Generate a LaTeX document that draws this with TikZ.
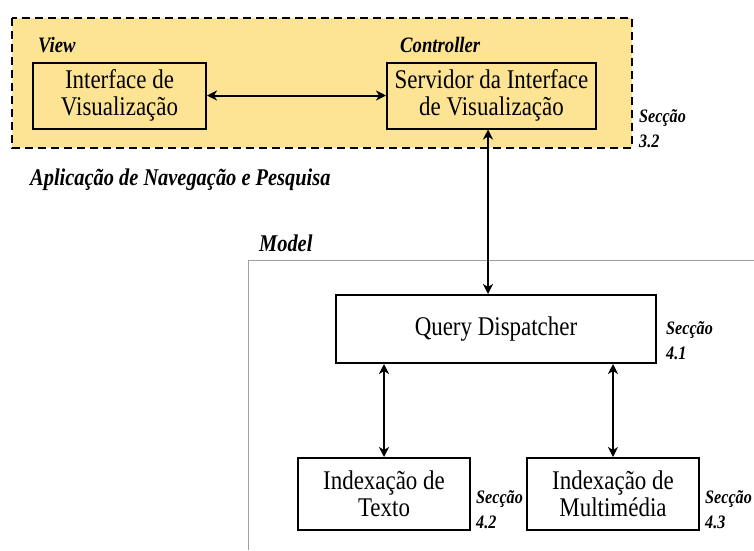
\documentclass[tikz,border=0pt]{standalone}
\usepackage{fontspec}
\setmainfont{Liberation Serif}[FakeStretch=0.85]
\usetikzlibrary{arrows.meta}
\definecolor{appyellow}{RGB}{253,228,148}
\definecolor{modelgray}{RGB}{160,160,160}
\tikzset{
  box/.style={draw=black, line width=2pt, align=center, font=\fontsize{27}{27}\selectfont, inner sep=0pt},
  lbl/.style={font=\fontsize{22}{26}\selectfont\bfseries\itshape, inner sep=0pt, anchor=west},
  biglbl/.style={font=\fontsize{24}{28}\selectfont\bfseries\itshape, inner sep=0pt, anchor=west},
  sec/.style={font=\fontsize{19}{25}\selectfont\bfseries\itshape, inner sep=0pt, anchor=west, align=left},
  conn/.style={line width=2pt, {Stealth[length=10pt,width=10pt,inset=3pt]}-{Stealth[length=10pt,width=10pt,inset=3pt]}}
}
\begin{document}
\begin{tikzpicture}[x=1pt,y=-1pt]
\useasboundingbox (0,0) rectangle (754,550);
% application area
\draw[fill=appyellow, line width=2pt, dash pattern=on 8pt off 5pt] (12,18) rectangle (632,148);
% model area
\draw[modelgray, line width=1pt] (248,550) -- (248,260) -- (754,260);

\node[lbl] (view) at (38,45) {View};
\node[lbl] (ctrl) at (400,45) {Controller};
\node[biglbl] (app) at (30,180) {Aplicação de Navegação e Pesquisa};
\node[biglbl] (model) at (259,243) {Model};

\node[box, fill=appyellow, minimum width=173pt, minimum height=66pt] (iv) at (119.5,95.5) {Interface de\\Visualização};
\node[box, fill=appyellow, minimum width=209pt, minimum height=66pt] (siv) at (491.5,95.5) {Servidor da Interface\\de Visualização};
\node[box, fill=white, minimum width=320pt, minimum height=68pt] (qd) at (496,329) {Query Dispatcher};
\node[box, fill=white, minimum width=172pt, minimum height=72pt] (it) at (384,494) {Indexação de\\Texto};
\node[box, fill=white, minimum width=172pt, minimum height=72pt] (im) at (613,494) {Indexação de\\Multimédia};

\node[sec] (s32) at (639,129) {Secção\\3.2};
\node[sec] (s41) at (666,341) {Secção\\4.1};
\node[sec] (s42) at (476,510) {Secção\\4.2};
\node[sec] (s43) at (705,510) {Secção\\4.3};

\coordinate (vtop) at (488,0);
\draw[conn] (iv.east) -- (siv.west);
\draw[conn] (siv.south -| vtop) -- (qd.north -| vtop);
\draw[conn] (qd.south -| it.north) -- (it.north);
\draw[conn] (qd.south -| im.north) -- (im.north);
\end{tikzpicture}
\end{document}
